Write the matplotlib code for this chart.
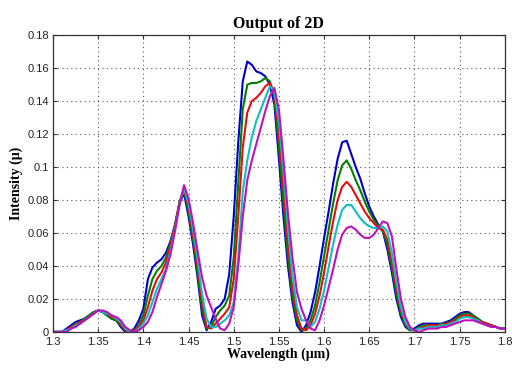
import matplotlib
matplotlib.use("Agg")
import matplotlib.pyplot as plt

wavelength = [
    1.300, 1.305, 1.310, 1.315, 1.320, 1.325, 1.330, 1.335, 1.340, 1.345,
    1.350, 1.355, 1.360, 1.365, 1.370, 1.375, 1.380, 1.385, 1.390, 1.395,
    1.400, 1.405, 1.410, 1.415, 1.420, 1.425, 1.430, 1.435, 1.440, 1.445,
    1.450, 1.455, 1.460, 1.465, 1.470, 1.475, 1.480, 1.485, 1.490, 1.495,
    1.500, 1.505, 1.510, 1.515, 1.520, 1.525, 1.530, 1.535, 1.540, 1.545,
    1.550, 1.555, 1.560, 1.565, 1.570, 1.575, 1.580, 1.585, 1.590, 1.595,
    1.600, 1.605, 1.610, 1.615, 1.620, 1.625, 1.630, 1.635, 1.640, 1.645,
    1.650, 1.655, 1.660, 1.665, 1.670, 1.675, 1.680, 1.685, 1.690, 1.695,
    1.700, 1.705, 1.710, 1.715, 1.720, 1.725, 1.730, 1.735, 1.740, 1.745,
    1.750, 1.755, 1.760, 1.765, 1.770, 1.775, 1.780, 1.785, 1.790, 1.795,
    1.800,
]

blue = [
    0.000, 0.000, 0.000, 0.002, 0.004, 0.006, 0.007, 0.008, 0.010, 0.012,
    0.013, 0.012, 0.010, 0.008, 0.007, 0.003, 0.000, 0.000, 0.002, 0.007,
    0.014, 0.032, 0.039, 0.042, 0.044, 0.048, 0.055, 0.065, 0.078, 0.084,
    0.070, 0.053, 0.033, 0.010, 0.001, 0.006, 0.014, 0.016, 0.020, 0.035,
    0.070, 0.115, 0.152, 0.164, 0.162, 0.158, 0.157, 0.155, 0.150, 0.138,
    0.105, 0.070, 0.040, 0.018, 0.004, 0.000, 0.004, 0.012, 0.024, 0.040,
    0.057, 0.073, 0.090, 0.105, 0.115, 0.116, 0.108, 0.100, 0.093, 0.084,
    0.076, 0.070, 0.065, 0.061, 0.050, 0.036, 0.020, 0.009, 0.003, 0.001,
    0.002, 0.004, 0.005, 0.005, 0.005, 0.005, 0.005, 0.006, 0.007, 0.009,
    0.011, 0.012, 0.012, 0.010, 0.008, 0.006, 0.005, 0.004, 0.003, 0.002,
    0.002,
]

green = [
    0.000, 0.000, 0.000, 0.001, 0.003, 0.005, 0.006, 0.008, 0.010, 0.012,
    0.013, 0.012, 0.010, 0.008, 0.007, 0.004, 0.001, 0.000, 0.001, 0.004,
    0.010, 0.022, 0.032, 0.037, 0.040, 0.045, 0.054, 0.065, 0.079, 0.086,
    0.073, 0.056, 0.036, 0.014, 0.002, 0.003, 0.009, 0.013, 0.016, 0.022,
    0.045, 0.090, 0.135, 0.150, 0.151, 0.151, 0.152, 0.154, 0.152, 0.142,
    0.112, 0.078, 0.046, 0.022, 0.007, 0.001, 0.002, 0.007, 0.016, 0.030,
    0.046, 0.062, 0.078, 0.092, 0.101, 0.104, 0.099, 0.092, 0.086, 0.079,
    0.073, 0.068, 0.064, 0.061, 0.053, 0.039, 0.023, 0.011, 0.004, 0.001,
    0.001, 0.003, 0.004, 0.004, 0.004, 0.004, 0.005, 0.005, 0.006, 0.008,
    0.010, 0.011, 0.011, 0.010, 0.008, 0.006, 0.005, 0.004, 0.003, 0.002,
    0.002,
]

red = [
    0.000, 0.000, 0.000, 0.001, 0.003, 0.004, 0.006, 0.007, 0.009, 0.011,
    0.013, 0.012, 0.011, 0.009, 0.008, 0.005, 0.001, 0.000, 0.001, 0.003,
    0.007, 0.015, 0.025, 0.032, 0.036, 0.042, 0.052, 0.064, 0.078, 0.087,
    0.076, 0.059, 0.040, 0.018, 0.003, 0.002, 0.005, 0.008, 0.011, 0.015,
    0.032, 0.070, 0.112, 0.133, 0.140, 0.142, 0.145, 0.149, 0.151, 0.145,
    0.120, 0.087, 0.053, 0.027, 0.010, 0.002, 0.001, 0.004, 0.011, 0.022,
    0.036, 0.052, 0.067, 0.080, 0.088, 0.091, 0.088, 0.083, 0.078, 0.073,
    0.069, 0.066, 0.063, 0.062, 0.056, 0.042, 0.026, 0.013, 0.005, 0.002,
    0.001, 0.002, 0.003, 0.004, 0.004, 0.004, 0.004, 0.005, 0.006, 0.007,
    0.009, 0.010, 0.010, 0.009, 0.007, 0.006, 0.005, 0.004, 0.003, 0.002,
    0.002,
]

cyan = [
    0.000, 0.000, 0.000, 0.001, 0.002, 0.004, 0.005, 0.007, 0.009, 0.011,
    0.013, 0.012, 0.011, 0.010, 0.008, 0.006, 0.002, 0.000, 0.000, 0.002,
    0.005, 0.010, 0.018, 0.026, 0.032, 0.038, 0.049, 0.062, 0.077, 0.087,
    0.078, 0.062, 0.044, 0.023, 0.008, 0.003, 0.003, 0.005, 0.007, 0.010,
    0.018, 0.045, 0.085, 0.104, 0.118, 0.128, 0.135, 0.142, 0.149, 0.146,
    0.127, 0.097, 0.063, 0.034, 0.015, 0.007, 0.007, 0.003, 0.006, 0.014,
    0.025, 0.039, 0.053, 0.065, 0.074, 0.077, 0.077, 0.073, 0.069, 0.066,
    0.064, 0.063, 0.063, 0.064, 0.061, 0.048, 0.030, 0.015, 0.006, 0.002,
    0.001, 0.002, 0.002, 0.003, 0.003, 0.003, 0.004, 0.004, 0.005, 0.006,
    0.008, 0.009, 0.009, 0.008, 0.007, 0.005, 0.004, 0.003, 0.003, 0.002,
    0.002,
]

magenta = [
    0.000, 0.000, 0.000, 0.000, 0.002, 0.003, 0.005, 0.007, 0.009, 0.011,
    0.013, 0.013, 0.012, 0.010, 0.009, 0.007, 0.003, 0.001, 0.000, 0.001,
    0.003, 0.006, 0.012, 0.021, 0.029, 0.037, 0.047, 0.061, 0.077, 0.089,
    0.081, 0.066, 0.049, 0.033, 0.022, 0.015, 0.008, 0.002, 0.001, 0.005,
    0.015, 0.040, 0.070, 0.092, 0.104, 0.114, 0.124, 0.134, 0.143, 0.148,
    0.135, 0.105, 0.072, 0.045, 0.024, 0.014, 0.007, 0.002, 0.001, 0.007,
    0.016, 0.027, 0.038, 0.050, 0.059, 0.063, 0.064, 0.062, 0.059, 0.057,
    0.057, 0.059, 0.063, 0.067, 0.066, 0.058, 0.038, 0.020, 0.009, 0.003,
    0.001, 0.000, 0.001, 0.002, 0.002, 0.002, 0.003, 0.003, 0.004, 0.005,
    0.006, 0.007, 0.007, 0.007, 0.006, 0.005, 0.004, 0.003, 0.003, 0.002,
    0.002,
]

series = [
    (blue, "#0000c8"),
    (green, "#008000"),
    (red, "#e01010"),
    (cyan, "#10bfbf"),
    (magenta, "#bf10bf"),
]

x_ticks = [1.3, 1.35, 1.4, 1.45, 1.5, 1.55, 1.6, 1.65, 1.7, 1.75, 1.8]
x_tick_labels = ["1.3", "1.35", "1.4", "1.45", "1.5", "1.55", "1.6", "1.65", "1.7", "1.75", "1.8"]
y_ticks = [0, 0.02, 0.04, 0.06, 0.08, 0.1, 0.12, 0.14, 0.16, 0.18]
y_tick_labels = ["0", "0.02", "0.04", "0.06", "0.08", "0.1", "0.12", "0.14", "0.16", "0.18"]

fig = plt.figure(figsize=(5.12, 3.70), dpi=100)
ax = fig.add_axes([0.1035, 0.103, 0.8825, 0.802])

for values, color in series:
    ax.plot(wavelength, values, color=color, linewidth=1.5, solid_joinstyle="round")

ax.set_xlim(1.3, 1.8)
ax.set_ylim(0, 0.18)
ax.set_xticks(x_ticks)
ax.set_xticklabels(x_tick_labels, family="Liberation Sans", fontsize=8)
ax.set_yticks(y_ticks)
ax.set_yticklabels(y_tick_labels, family="Liberation Sans", fontsize=8)
ax.tick_params(direction="in", top=True, right=True, length=3, colors="#333333",
               labelcolor="#222222")
ax.tick_params(axis="x", pad=4)
ax.tick_params(axis="y", pad=3)
ax.grid(True, linestyle=(0, (1, 3)), color="#555555", linewidth=0.8)
for spine in ax.spines.values():
    spine.set_color("#333333")
    spine.set_linewidth(0.9)

ax.set_title("Output of 2D", family="Liberation Serif", fontweight="bold",
             fontsize=11.5, pad=5)
ax.set_xlabel("Wavelength (\u03bcm)", family="Liberation Serif", fontweight="bold",
              fontsize=10, labelpad=0)
ax.set_ylabel("Intensity (\u03bc)", family="Liberation Serif", fontweight="bold",
              fontsize=10, labelpad=3)

fig.savefig("out.png", dpi=100)
